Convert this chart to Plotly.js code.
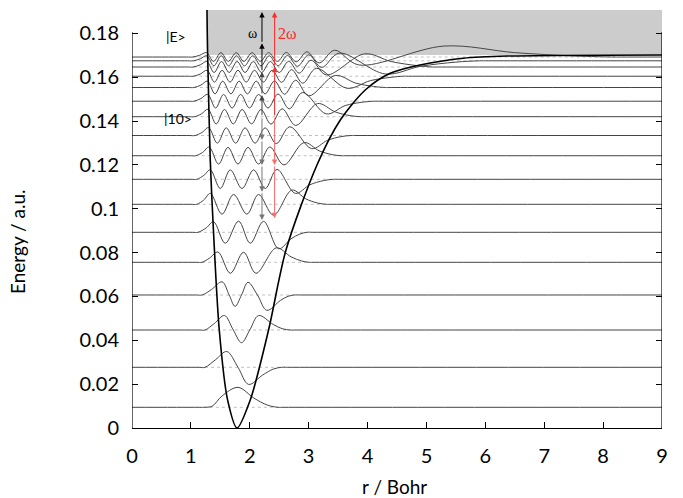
<!DOCTYPE html>
<html>
<head>
<meta charset="utf-8">
<script src="https://cdn.plot.ly/plotly-3.0.1.min.js"></script>
<style>html,body{margin:0;padding:0;background:#fff;}#chart{width:683px;height:498px;}</style>
</head>
<body>
<div id="chart"></div>
<script>
// ---- data ----
var xTicks = [0,1,2,3,4,5,6,7,8,9];
var yTicks = [0,0.02,0.04,0.06,0.08,0.1,0.12,0.14,0.16,0.18];
var yTickText = ['0','0.02','0.04','0.06','0.08','0.1','0.12','0.14','0.16','0.18'];

// potential curve (r in Bohr, V in a.u.)
var potR = [1.273, 1.278, 1.284, 1.329, 1.385, 1.482, 1.623, 1.783, 2.008, 2.319, 2.615, 3.141, 3.537, 3.961, 4.385, 4.89, 5.625, 6.372, 9.0];
var potV = [0.1907, 0.1802, 0.1711, 0.1223, 0.0890, 0.0447, 0.0128, 0, 0.0128, 0.0447, 0.0812, 0.1200, 0.1405, 0.1542, 0.1618, 0.1656, 0.1687, 0.1697, 0.1702];

// vibrational levels
var levels = [0.00944, 0.02769, 0.04471, 0.06068, 0.07559, 0.08928, 0.10205, 0.11346, 0.12422, 0.13344, 0.14202, 0.14909, 0.15534, 0.16049, 0.16469, 0.16752, 0.16925];
var levelStart = [1.22, 1.24, 1.24, 1.19, 1.19, 1.12, 1.10, 1.10, 1.08, 1.07, 1.06, 1.05, 1.05, 1.04, 1.04, 1.04, 1.03];
var levelEnd = [2.48, 2.54, 2.69, 2.76, 3.01, 2.97, 3.30, 3.42, 3.55, 3.72, 3.90, 4.10, 4.30, 4.60, 5.10, 5.90, 8.20];

// wavefunction shape points (r, offset from level)
var psiR0 = [1.36, 1.53, 1.80, 2.07, 2.30];
var psiD0 = [0.0005, 0.0052, 0.0091, 0.0042, 0.0010];
var psiR1 = [1.42, 1.61, 1.80, 1.98, 2.22, 2.40];
var psiD1 = [0.0035, 0.0072, 0, -0.0078, -0.0035, -0.0008];
var psiR2 = [1.40, 1.57, 1.72, 1.86, 2.00, 2.15, 2.40, 2.55];
var psiD2 = [0.0030, 0.0066, 0, -0.0058, 0, 0.0066, 0.0025, 0.0006];
var psiR3 = [1.35, 1.53, 1.65, 1.75, 1.86, 1.97, 2.13, 2.29, 2.52, 2.65];
var psiD3 = [0.0025, 0.0060, 0, -0.0052, 0, 0.0058, 0, -0.0070, -0.0025, -0.0006];
var psiR4 = [1.32, 1.46, 1.67, 1.895, 2.105, 2.45, 2.70, 2.88];
var psiD4 = [0.0020, 0.0047, -0.0050, 0.0046, -0.0050, 0.0066, 0.0025, 0.0006];
var psiR5 = [1.26, 1.385, 1.584, 1.81, 2.008, 2.234, 2.49, 2.70, 2.85];
var psiD5 = [0.0020, 0.0048, -0.0050, 0.0051, -0.0050, 0.0050, -0.0075, -0.0030, -0.0008];
var psiR6 = [1.22, 1.33, 1.528, 1.725, 1.952, 2.149, 2.404, 2.716, 2.95, 3.15];
var psiD6 = [0.0020, 0.0050, -0.0045, 0.0045, -0.0045, 0.0045, -0.0050, 0.0065, 0.0025, 0.0006];
var psiR7 = [1.22, 1.33, 1.499, 1.669, 1.868, 2.065, 2.263, 2.462, 2.773, 3.02, 3.25];
var psiD7 = [0.0018, 0.0043, -0.0042, 0.0043, -0.0042, 0.0043, -0.0042, 0.0045, -0.0064, -0.0025, -0.0006];
var psiR8 = [1.20, 1.31, 1.47, 1.63, 1.80, 1.97, 2.15, 2.34, 2.58, 2.92, 3.18, 3.40];
var psiD8 = [0.0015, 0.0040, -0.0038, 0.0038, -0.0038, 0.0038, -0.0038, 0.0040, -0.0042, 0.0060, 0.0022, 0.0005];
var psiR9 = [1.19, 1.30, 1.45, 1.60, 1.76, 1.92, 2.09, 2.26, 2.45, 2.68, 3.05, 3.32, 3.55];
var psiD9 = [0.0014, 0.0036, -0.0035, 0.0035, -0.0035, 0.0035, -0.0035, 0.0035, -0.0037, 0.0040, -0.0060, -0.0022, -0.0005];
var psiR10 = [1.18, 1.29, 1.43, 1.57, 1.72, 1.87, 2.03, 2.19, 2.36, 2.55, 2.78, 3.15, 3.45, 3.70];
var psiD10 = [0.0013, 0.0034, -0.0033, 0.0033, -0.0033, 0.0033, -0.0033, 0.0033, -0.0034, 0.0036, -0.0040, 0.0060, 0.0022, 0.0005];
var psiR11 = [1.17, 1.285, 1.42, 1.555, 1.70, 1.845, 1.995, 2.15, 2.31, 2.48, 2.67, 2.90, 3.30, 3.62, 3.90];
var psiD11 = [0.0012, 0.0031, -0.0031, 0.0031, -0.0031, 0.0031, -0.0031, 0.0031, -0.0031, 0.0033, -0.0035, 0.0040, -0.0058, -0.0020, -0.0005];
var psiR12 = [1.17, 1.28, 1.41, 1.54, 1.68, 1.82, 1.96, 2.11, 2.26, 2.42, 2.59, 2.78, 3.00, 3.45, 3.80, 4.10];
var psiD12 = [0.0011, 0.0029, -0.0029, 0.0029, -0.0029, 0.0029, -0.0029, 0.0029, -0.0029, 0.0030, -0.0031, 0.0033, -0.0038, 0.0055, 0.0020, 0.0005];
var psiR13 = [1.16, 1.275, 1.40, 1.53, 1.665, 1.80, 1.94, 2.08, 2.23, 2.38, 2.54, 2.71, 2.90, 3.13, 3.65, 4.05, 4.40];
var psiD13 = [0.0010, 0.0027, -0.0027, 0.0027, -0.0027, 0.0027, -0.0027, 0.0027, -0.0027, 0.0027, -0.0028, 0.0030, -0.0032, 0.0036, -0.0055, -0.0020, -0.0005];
var psiR14 = [1.16, 1.27, 1.395, 1.52, 1.65, 1.785, 1.92, 2.06, 2.20, 2.35, 2.50, 2.66, 2.84, 3.04, 3.30, 3.95, 4.40, 4.85];
var psiD14 = [0.0010, 0.0025, -0.0025, 0.0025, -0.0025, 0.0025, -0.0025, 0.0025, -0.0025, 0.0025, -0.0025, 0.0026, -0.0028, 0.0031, -0.0036, 0.0060, 0.0025, 0.0006];
var psiR15 = [1.16, 1.27, 1.39, 1.515, 1.64, 1.775, 1.91, 2.05, 2.19, 2.33, 2.48, 2.64, 2.81, 3.00, 3.22, 3.52, 4.30, 4.90, 5.50];
var psiD15 = [0.0009, 0.0023, -0.0023, 0.0023, -0.0023, 0.0023, -0.0023, 0.0023, -0.0023, 0.0023, -0.0023, 0.0024, -0.0025, 0.0027, -0.0030, 0.0035, -0.0060, -0.0025, -0.0006];
var psiR16 = [1.15, 1.265, 1.385, 1.51, 1.635, 1.77, 1.90, 2.04, 2.18, 2.32, 2.47, 2.62, 2.79, 2.97, 3.18, 3.44, 3.85, 5.30, 6.50, 7.50];
var psiD16 = [0.0008, 0.0020, -0.0020, 0.0020, -0.0020, 0.0020, -0.0020, 0.0020, -0.0020, 0.0020, -0.0020, 0.0021, -0.0022, 0.0024, -0.0027, 0.0031, -0.0036, 0.0050, 0.0020, 0.0005];

var psiR = [psiR0,psiR1,psiR2,psiR3,psiR4,psiR5,psiR6,psiR7,psiR8,psiR9,psiR10,psiR11,psiR12,psiR13,psiR14,psiR15,psiR16];
var psiD = [psiD0,psiD1,psiD2,psiD3,psiD4,psiD5,psiD6,psiD7,psiD8,psiD9,psiD10,psiD11,psiD12,psiD13,psiD14,psiD15,psiD16];

// transition arrows (energies of arrow heads), starting from |10>
var arrowR_omega = 2.207;
var arrowR_2omega = 2.421;
var omegaUpHeads = [0.1519, 0.1625, 0.1755, 0.1898];
var omegaDownHeads = [0.1314, 0.1200, 0.1078, 0.0949];
var twoOmegaUpHeads = [0.1648, 0.1898];
var twoOmegaDownHeads = [0.1200, 0.0957];
var startLevel = 10;

// continuum box
var contR0 = 1.273, contR1 = 9, contE0 = 0.1702, contE1 = 0.1907;

// ---- build traces ----
var traces = [];
var dx = [], dy = [];
for (var i = 0; i < levels.length; i++) {
  dx.push(levelStart[i], levelEnd[i], null);
  dy.push(levels[i], levels[i], null);
}
traces.push({x: dx, y: dy, mode: 'lines', line: {color: '#b0b0b0', width: 0.8, dash: 'dot'}, hoverinfo: 'skip'});

for (var v = 0; v < levels.length; v++) {
  var E = levels[v];
  var xs = [0, levelStart[v] - 0.1, levelStart[v]];
  var ys = [E, E, E];
  for (var k = 0; k < psiR[v].length; k++) { xs.push(psiR[v][k]); ys.push(E + psiD[v][k]); }
  xs.push(levelEnd[v], levelEnd[v] + 0.1, 9);
  ys.push(E, E, E);
  traces.push({x: xs, y: ys, mode: 'lines', line: {color: '#454545', width: 1, shape: 'spline', smoothing: 1}, hoverinfo: 'skip'});
}
traces.push({x: potR, y: potV, mode: 'lines', line: {color: '#000', width: 1.6, shape: 'spline', smoothing: 0.8}, hoverinfo: 'skip'});
traces.push({x: [null], y: [null], yaxis: 'y2', mode: 'lines', showlegend: false, hoverinfo: 'skip'});

// ---- annotations ----
var ann = [];
function arrow(r, from, to, color) {
  ann.push({x: r, y: to, ax: r, ay: from, xref: 'x', yref: 'y', axref: 'x', ayref: 'y', text: '', showarrow: true,
            arrowhead: 2, arrowsize: 1.1, arrowwidth: 1, arrowcolor: color, standoff: 0, startstandoff: 0});
}
var E10 = levels[startLevel];
var prev = E10;
for (var i = 0; i < omegaUpHeads.length; i++) { arrow(arrowR_omega, prev, omegaUpHeads[i], i < 2 ? '#444' : '#000'); prev = omegaUpHeads[i]; }
prev = E10;
for (var i = 0; i < omegaDownHeads.length; i++) { arrow(arrowR_omega, prev, omegaDownHeads[i], '#777'); prev = omegaDownHeads[i]; }
prev = E10;
for (var i = 0; i < twoOmegaUpHeads.length; i++) { arrow(arrowR_2omega, prev, twoOmegaUpHeads[i], '#ff2a2a'); prev = twoOmegaUpHeads[i]; }
prev = E10;
for (var i = 0; i < twoOmegaDownHeads.length; i++) { arrow(arrowR_2omega, prev, twoOmegaDownHeads[i], '#ff6a6a'); prev = twoOmegaDownHeads[i]; }

var labelFont = {family: 'Lato, Open Sans, sans-serif', size: 14, color: '#000'};
ann.push({x: 0.74, y: 0.1788, xref: 'x', yref: 'y', text: '|E&gt;', showarrow: false, font: labelFont});
ann.push({x: 0.78, y: 0.1414, xref: 'x', yref: 'y', text: '|10&gt;', showarrow: false, font: labelFont});
ann.push({x: 2.04, y: 0.1802, xref: 'x', yref: 'y', text: 'ω', showarrow: false, font: {family: 'Liberation Serif, DejaVu Serif, serif', size: 14, color: '#000'}});
ann.push({x: 2.64, y: 0.1802, xref: 'x', yref: 'y', text: '2ω', showarrow: false, font: {family: 'Liberation Serif, DejaVu Serif, serif', size: 16, color: '#ff2a2a'}});

var tickFont = {family: 'Lato, Open Sans, sans-serif', size: 20, color: '#000'};
var titleFont = {family: 'Lato, Open Sans, sans-serif', size: 19, color: '#000'};
// axis titles placed as annotations
ann.push({xref: 'paper', yref: 'paper', x: -0.215, y: 0.445, text: 'Energy / a.u.', textangle: -90, showarrow: false,
          xanchor: 'center', yanchor: 'middle', font: titleFont});
ann.push({xref: 'paper', yref: 'paper', x: 0.496, y: -0.141, text: 'r / Bohr', showarrow: false,
          xanchor: 'center', yanchor: 'middle', font: titleFont});

var layout = {
  width: 683, height: 498,
  margin: {l: 132, r: 21, t: 10, b: 70},
  paper_bgcolor: '#fff', plot_bgcolor: '#fff',
  showlegend: false,
  xaxis: {range: [0, 9], tickvals: xTicks, ticks: 'inside', ticklen: 6, tickcolor: '#000', tickwidth: 1,
          showline: true, linecolor: '#000', linewidth: 1.2, showgrid: false, zeroline: false,
          tickfont: tickFont, ticklabelstandoff: 10},
  yaxis: {range: [0, 0.1907], tickvals: yTicks, ticktext: yTickText, ticks: 'inside', ticklen: 6, tickcolor: '#000', tickwidth: 1,
          showline: false, showgrid: false, zeroline: false, tickfont: tickFont, ticklabelstandoff: 12},
  yaxis2: {range: [0, 0.1907], overlaying: 'y', side: 'right', tickvals: yTicks, ticks: 'inside', ticklen: 6, tickcolor: '#000',
           showticklabels: false, showline: false, showgrid: false, zeroline: false},
  shapes: [
    {type: 'rect', xref: 'x', yref: 'y', x0: contR0, x1: contR1, y0: contE0, y1: contE1, fillcolor: '#cccccc', line: {width: 0}, layer: 'below'},
    {type: 'line', xref: 'x', yref: 'y', x0: 0, x1: 0, y0: 0, y1: 0.1805, line: {color: '#000', width: 1.2}},
    {type: 'line', xref: 'x', yref: 'y', x0: 9, x1: 9, y0: 0, y1: 0.1805, line: {color: '#000', width: 1.2}}
  ],
  annotations: ann
};
Plotly.newPlot('chart', traces, layout, {staticPlot: true, displayModeBar: false});
</script>
</body>
</html>
